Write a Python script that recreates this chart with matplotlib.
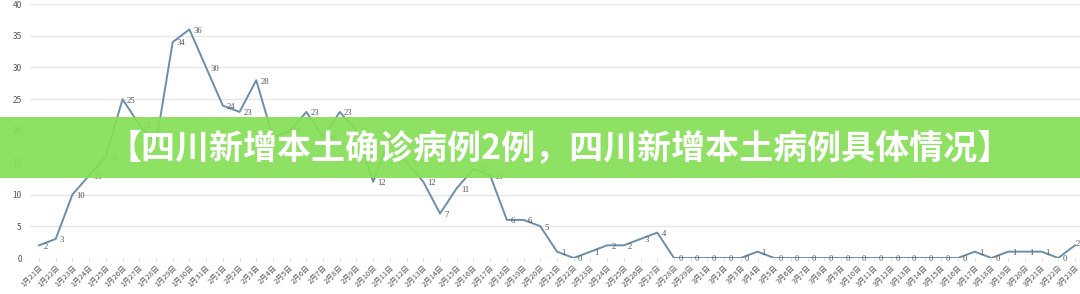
import matplotlib
matplotlib.use("Agg")
import matplotlib.pyplot as plt
from matplotlib.patches import Rectangle

plt.rcParams['font.family'] = ['Noto Sans CJK SC', 'DejaVu Sans']

jan_days = list(range(21, 32))
feb_days = list(range(1, 30))
mar_days = list(range(1, 24))
dates = [f"1月{d}日" for d in jan_days] + [f"2月{d}日" for d in feb_days] + [f"3月{d}日" for d in mar_days]

values = [2, 3, 10, 13, 16, 25, 21, 18, 34, 36, 30,
          24, 23, 28, 19, 20, 23, 19, 23, 20, 12, 19, 15, 12, 7, 11, 14, 13, 6, 6, 5,
          1, 0, 1, 2, 2, 3, 4, 0, 0,
          0, 0, 0, 1, 0, 0, 0, 0, 0, 0, 0, 0, 0, 0, 0, 0, 1, 0, 1, 1, 1, 0, 2]

y_ticks = [0, 5, 10, 15, 20, 25, 30, 35, 40]
title = "【四川新增本土确诊病例2例，四川新增本土病例具体情况】"

W, H = 1080, 294
fig = plt.figure(figsize=(W / 100, H / 100), dpi=100)
ax = fig.add_axes([30 / W, 36 / H, 1 - 30 / W, 254 / H])

x = list(range(len(values)))
ax.plot(x, values, color='#6b8fab', lw=1.4, zorder=3)
n = len(values)
for xi, v in zip(x, values):
    last = xi == n - 1
    ax.annotate(str(v), (xi, v), xytext=(0.5 if last else 3, 1 if last else -1),
                textcoords='offset points',
                ha='left', va='center', fontsize=6.2, color='#555555',
                family=['Liberation Serif'], zorder=4, annotation_clip=False)

ax.set_xlim(-0.54, 62.3)
ax.set_ylim(0, 40)
ax.set_yticks(y_ticks)
ax.set_yticklabels([str(t) for t in y_ticks], fontsize=6, color='#555555')
ax.set_xticks(x)
ax.set_xticklabels(dates, rotation=45, ha='right', rotation_mode='anchor',
                   fontsize=5.4, color='#555555')
ax.tick_params(axis='y', length=0, pad=6)
ax.tick_params(axis='x', length=2, color='#dddddd', pad=2)
ax.grid(axis='y', color='#e6e6e6', lw=1.0)
ax.set_axisbelow(True)
for s in ax.spines.values():
    s.set_visible(False)

# banner overlay
fig.patches.append(Rectangle((0, 1 - 178 / H), 1, 61 / H, transform=fig.transFigure,
                             facecolor='#85df55', alpha=0.92, zorder=10))
fig.text(560 / W, 1 - 148 / H, title, ha='center', va='center', color='white',
         fontsize=24.5, fontweight='black', zorder=11,
         family=['Noto Sans CJK SC', 'DejaVu Sans'])

fig.savefig("out.png", dpi=100)
